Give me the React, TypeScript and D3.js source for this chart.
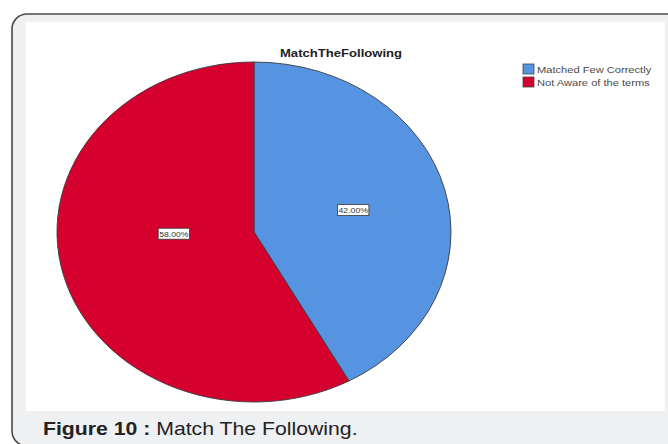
import React from "react";
import * as d3 from "d3";

const title = "MatchTheFollowing";
const categories = ["Matched Few Correctly", "Not Aware of the terms"];
const values = [42, 58];
const sliceLabels = ["42.00%", "58.00%"];
const colors = ["#5694e2", "#d6002f"];
const captionBold = "Figure 10 :";
const captionText = " Match The Following.";

// layout styles
const W = 668;
const H = 444;
const CX = 254;
const CY = 232;
const RY = 170;
const RX = 197;
const SX = RX / RY;
const labelRadiusFrac = [0.52, 0.42];
const labelNudgeY = [0, -16];

export default function App() {
  const pie = d3
    .pie<number>()
    .sort(null)
    .value((d) => d)
    .startAngle(0)
    .endAngle(2 * Math.PI);
  const arcs = pie(values);
  const arc = d3.arc<d3.PieArcDatum<number>>().innerRadius(0).outerRadius(RY);

  return (
    <svg
      width={W}
      height={H}
      style={{ position: "absolute", left: 0, top: 0, display: "block" }}
      fontFamily="'Liberation Sans', Arial, sans-serif"
    >
      <rect x={0} y={0} width={W} height={H} fill="#ffffff" />
      {/* frame */}
      <rect
        x={12}
        y={14}
        width={720}
        height={432}
        rx={15}
        ry={15}
        fill="#eff0f2"
        stroke="#4a4a4a"
        strokeWidth={1.6}
      />
      <rect x={26} y={22} width={639} height={389} fill="#ffffff" />

      {/* title */}
      <g transform={`translate(341,57) scale(${SX},1)`}>
        <text
          textAnchor="middle"
          fontSize={11.3}
          fontWeight="bold"
          fill="#222"
        >
          {title}
        </text>
      </g>

      {/* pie */}
      <g transform={`translate(${CX},${CY}) scale(${SX},1)`}>
        {arcs.map((a, i) => (
          <path
            key={i}
            d={arc(a) || ""}
            fill={colors[i]}
            stroke="#3a3a3a"
            strokeWidth={0.9}
            vectorEffect="non-scaling-stroke"
          />
        ))}
        {arcs.map((a, i) => {
          const lr = RY * labelRadiusFrac[i];
          const la = d3.arc<d3.PieArcDatum<number>>().innerRadius(lr).outerRadius(lr);
          const [x, y0] = la.centroid(a);
          const y = y0 + labelNudgeY[i];
          return (
            <g key={"l" + i} transform={`translate(${x},${y})`}>
              <rect
                x={-13.5}
                y={-5.5}
                width={27}
                height={11}
                fill="#ffffff"
                stroke="#333"
                strokeWidth={0.8}
                vectorEffect="non-scaling-stroke"
              />
              <text
                textAnchor="middle"
                y={3}
                fontSize={7.5}
                fill="#333"
              >
                {sliceLabels[i]}
              </text>
            </g>
          );
        })}
      </g>

      {/* legend */}
      {categories.map((c, i) => (
        <g key={"lg" + i} transform={`translate(523,${64 + i * 13})`}>
          <rect
            x={0}
            y={0}
            width={11}
            height={10}
            fill={colors[i]}
            stroke="#444"
            strokeWidth={0.8}
          />
          <g transform={`translate(14,8.5) scale(${SX},1)`}>
            <text fontSize={9.6} fill="#4a4a4a">
              {c}
            </text>
          </g>
        </g>
      ))}

      {/* caption */}
      <g transform={`translate(43,435) scale(1.18,1)`}>
        <text fontSize={18} fill="#222">
          <tspan fontWeight="bold">{captionBold}</tspan>
          <tspan>{captionText}</tspan>
        </text>
      </g>
    </svg>
  );
}
